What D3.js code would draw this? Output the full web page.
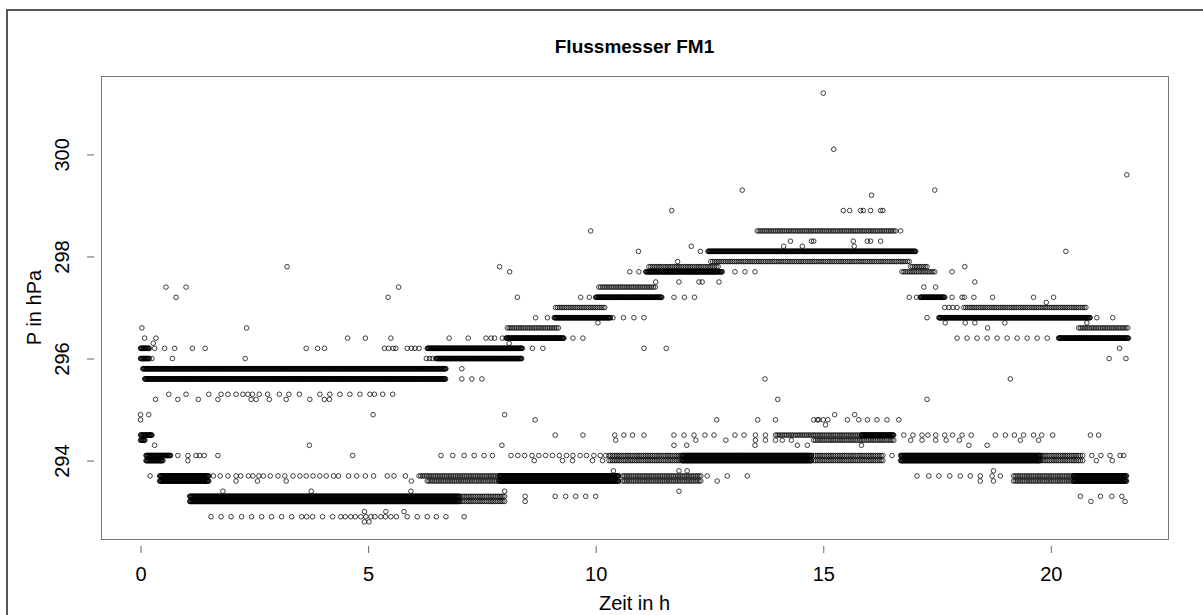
<!DOCTYPE html>
<html>
<head>
<meta charset="utf-8">
<script src="https://d3js.org/d3.v7.min.js"></script>
<title>Flussmesser FM1</title>
<style type="text/css">
body {
  margin: 0;
  background: #fff;
}
svg {
  font-family: "Liberation Sans", Arial, sans-serif;
}
.frame {
  fill: none;
  stroke: #555;
  stroke-width: 2;
}
.plot-box {
  fill: none;
  stroke: #777;
  stroke-width: 1;
}
.tick line {
  stroke: #666;
}
.pt {
  fill: none;
  stroke: #000;
  stroke-width: 0.75;
}
</style>
</head>
<body>
<svg id="chart"></svg>

<script>
// x: Zeit in h, y: P in hPa
var xTicks = [0, 5, 10, 15, 20];
var yTicks = [294, 296, 298, 300];

// sampling interval of the logger inside the solid bands and the looser chains
var denseStep = 0.012;
var chainStep = 0.04;

// solid bands: [pressure, from h, to h]
var denseRuns = [
  [296.2, 0.0, 0.2], [296.0, 0.0, 0.2],
  [295.8, 0.05, 6.71], [295.6, 0.09, 6.71],
  [296.2, 6.3, 8.39], [296.0, 6.49, 8.38],
  [296.4, 8.03, 9.31],
  [296.8, 9.09, 10.33],
  [297.2, 10.0, 11.46],
  [297.7, 11.1, 12.78],
  [298.1, 12.47, 17.03],
  [297.2, 17.13, 17.68],
  [296.8, 17.54, 20.87],
  [296.4, 20.17, 21.71],
  [294.5, 0.0, 0.26], [294.4, 0.0, 0.1],
  [294.1, 0.12, 0.67], [294.0, 0.12, 0.5],
  [293.7, 0.42, 1.51], [293.6, 0.42, 1.51],
  [293.3, 1.08, 7.0], [293.2, 1.08, 7.0],
  [293.7, 7.88, 10.51], [293.6, 7.88, 10.51],
  [294.1, 11.9, 14.75], [294.0, 11.9, 14.75],
  [294.5, 15.84, 16.55],
  [294.1, 16.7, 19.77], [294.0, 16.7, 19.77],
  [293.7, 20.5, 21.67], [293.6, 20.5, 21.67]
];

// looser chains of readings: [pressure, from h, to h]
var chainRuns = [
  [296.6, 8.06, 9.2], [297.0, 9.12, 10.22], [297.4, 10.07, 11.32],
  [297.8, 11.17, 12.71], [297.9, 12.53, 16.92], [298.5, 13.55, 16.62],
  [297.8, 16.92, 17.28], [297.7, 16.73, 17.47], [297.0, 18.09, 20.79],
  [296.6, 20.61, 21.71],
  [293.3, 7.0, 8.03], [293.2, 7.0, 8.03],
  [293.7, 6.12, 7.88], [293.6, 6.3, 7.88],
  [293.7, 10.59, 12.34], [293.6, 10.59, 12.34],
  [294.1, 10.29, 11.9], [294.0, 10.29, 11.9],
  [294.5, 13.95, 15.84], [294.4, 14.79, 16.55],
  [294.1, 14.79, 16.33], [294.0, 14.79, 16.33],
  [294.1, 19.77, 20.65], [294.0, 19.77, 20.65],
  [293.7, 19.18, 20.5], [293.6, 19.18, 20.5]
];

// single readings, listed by pressure level: [pressure, [times in h]]
var singles = [
  [301.2, [15.0]],
  [300.1, [15.23]],
  [299.6, [21.67]],
  [299.3, [13.22, 17.45]],
  [299.2, [16.06]],
  [298.9, [11.67, 15.44, 15.58, 15.82, 15.88, 16.04, 16.26, 16.31]],
  [298.5, [9.89, 16.7]],
  [298.3, [14.28, 14.74, 14.79, 15.66, 15.97, 16.04, 16.26]],
  [298.2, [12.1, 14.13, 14.54, 15.68]],
  [298.1, [10.94, 12.3, 20.33]],
  [297.9, [11.8]],
  [297.8, [3.22, 7.89, 18.11]],
  [297.7, [8.11, 10.75, 10.95, 13.06, 13.28, 13.5, 17.83]],
  [297.5, [11.32, 11.83, 12.27, 12.34, 12.71, 18.33]],
  [297.4, [0.56, 1.0, 5.67, 17.21, 17.47]],
  [297.2, [0.78, 5.44, 8.28, 9.67, 9.86, 11.72, 11.95, 12.17, 16.89, 17.05, 17.83, 18.05, 18.1, 18.31, 18.72, 19.62, 20.06]],
  [297.1, [19.9]],
  [297.0, [17.67, 17.76, 17.85, 17.94]],
  [296.8, [8.68, 8.94, 10.38, 10.61, 10.84, 11.06, 17.28, 21.01, 21.36]],
  [296.7, [10.05, 17.68, 18.12, 18.33, 18.99, 20.79]],
  [296.6, [0.03, 2.33, 18.61]],
  [296.4, [0.09, 0.34, 4.55, 4.94, 5.5, 6.78, 7.2, 7.59, 7.7, 7.78, 7.95, 9.5, 9.72,
           17.94, 18.16, 18.38, 18.6, 18.82, 19.04, 19.26, 19.48, 19.7, 19.92]],
  [296.3, [0.28, 8.1]],
  [296.2, [0.31, 0.53, 0.75, 1.14, 1.42, 3.64, 3.89, 4.04, 5.36, 5.45, 5.55, 5.61, 5.86,
           5.95, 6.03, 6.12, 8.61, 8.84, 11.06, 11.55, 21.51]],
  [296.0, [0.25, 0.7, 2.3, 6.28, 6.35, 6.41, 21.28, 21.65]],
  [295.8, [7.06]],
  [295.6, [7.06, 7.28, 7.5, 13.72, 19.11]],
  [295.3, [0.62, 1.0, 1.5, 1.77, 1.92, 2.1, 2.25, 2.36, 2.46, 2.61, 2.79, 3.05, 3.26, 3.49,
           3.94, 4.16, 4.38, 4.6, 4.82, 5.04, 5.14, 5.32, 5.54]],
  [295.2, [0.33, 0.82, 1.27, 1.7, 2.43, 2.54, 2.83, 3.2, 3.72, 4.04, 4.15, 14.0, 17.28]],
  [294.9, [0.0, 0.18, 5.11, 8.0, 15.25, 15.69]],
  [294.8, [0.0, 8.67, 12.66, 13.56, 13.95, 14.79, 14.87, 14.9, 15.0, 15.1, 15.53, 15.78,
           15.97, 16.18, 16.4, 16.66]],
  [294.7, [15.05]],
  [294.5, [9.11, 9.72, 10.42, 10.62, 10.81, 11.06, 11.72, 11.94, 12.16, 12.4, 12.6, 13.06,
           13.26, 13.51, 13.73, 16.77, 16.97, 17.17, 17.3, 17.47, 17.67, 17.84, 18.05,
           18.25, 18.78, 19.0, 19.2, 19.4, 19.62, 19.8, 20.04, 20.87, 21.05]],
  [294.4, [10.44, 12.2, 12.86, 13.51, 13.73, 13.95, 14.1, 14.3, 16.92, 17.17, 17.47, 17.7,
           17.99, 19.33, 19.73]],
  [294.3, [0.31, 3.71, 7.94, 11.72, 12.0, 13.5, 14.43, 14.65, 15.84, 18.2, 18.6]],
  [294.1, [0.82, 1.04, 1.22, 1.3, 1.4, 1.7, 4.66, 6.6, 6.86, 7.11, 7.33, 7.55, 7.73,
           8.14, 8.29, 8.44, 8.6, 8.75, 8.9, 9.05, 9.2, 9.36, 9.5, 9.66, 9.8, 9.96, 10.1,
           10.22, 16.51, 20.7, 20.9, 21.1, 21.3, 21.52, 21.6]],
  [294.0, [1.04, 8.65, 9.27, 9.49, 9.93, 10.15, 20.7, 21.0, 21.35]],
  [293.8, [10.39, 11.83, 12.01, 18.74]],
  [293.7, [0.21, 1.6, 1.75, 1.92, 2.1, 2.2, 2.37, 2.47, 2.6, 2.7, 2.85, 3.02, 3.17, 3.35,
           3.5, 3.64, 3.79, 3.94, 4.08, 4.24, 4.35, 4.57, 4.75, 4.94, 5.12, 5.42, 5.57,
           5.82, 12.45, 12.89, 13.33, 17.06, 17.32, 17.54, 17.78, 18.01, 18.23, 18.45,
           18.71, 18.89]],
  [293.6, [2.1, 2.57, 3.2, 5.95, 12.67, 18.45, 18.74]],
  [293.4, [1.81, 3.75, 5.94, 8.0, 11.83]],
  [293.3, [8.45, 9.11, 9.34, 9.56, 9.78, 10.0, 20.65, 21.09, 21.34, 21.56]],
  [293.2, [8.45, 20.88, 21.63]],
  [293.0, [4.92, 5.39, 5.79]],
  [292.9, [1.55, 1.77, 1.99, 2.22, 2.44, 2.66, 2.88, 3.1, 3.32, 3.54, 3.65, 3.78, 4.0,
           4.22, 4.4, 4.5, 4.62, 4.72, 4.84, 4.95, 5.06, 5.15, 5.28, 5.38, 5.5, 5.62,
           5.86, 6.08, 6.3, 6.5, 6.71, 7.11]],
  [292.8, [4.92, 5.02]]
];

var width = 1203, height = 615;
var margin = {left: 101, right: 35, top: 76, bottom: 76};

// build the point list
var points = [];
function addRun(r, step) {
  for (var t = r[1]; t <= r[2] + 1e-9; t += step) points.push([t, r[0]]);
}
denseRuns.forEach(function(r) { addRun(r, denseStep); });
chainRuns.forEach(function(r) { addRun(r, chainStep); });
singles.forEach(function(s) {
  s[1].forEach(function(t) { points.push([t, s[0]]); });
});

// R style axis extent: data range plus 4%
function pad(ext) {
  var d = (ext[1] - ext[0]) * 0.04;
  return [ext[0] - d, ext[1] + d];
}

var x = d3.scaleLinear()
  .domain(pad(d3.extent(points, function(d) { return d[0]; })))
  .range([margin.left, width - margin.right]);
var y = d3.scaleLinear()
  .domain(pad(d3.extent(points, function(d) { return d[1]; })))
  .range([height - margin.bottom, margin.top]);

var svg = d3.select('#chart')
  .attr('width', width)
  .attr('height', height);

// panel frame (runs off the right and bottom edge)
svg.append('rect')
  .attr('class', 'frame')
  .attr('x', 7).attr('y', 10)
  .attr('width', width + 20).attr('height', height + 20);

svg.append('text')
  .attr('x', (margin.left + width - margin.right) / 2)
  .attr('y', 53)
  .attr('text-anchor', 'middle')
  .style('font-weight', 'bold')
  .style('font-size', '19px')
  .text('Flussmesser FM1');

var xAxis = d3.axisBottom(x).tickValues(xTicks).tickSize(7).tickPadding(14);
var gx = svg.append('g')
  .attr('class', 'x axis')
  .attr('transform', 'translate(0,' + (height - margin.bottom + 7) + ')')
  .call(xAxis);
gx.select('.domain').remove();
gx.selectAll('text').style('font-size', '20px').attr('fill', '#000');

var yAxis = d3.axisLeft(y).tickValues(yTicks).tickSize(7);
var gy = svg.append('g')
  .attr('class', 'y axis')
  .attr('transform', 'translate(' + (margin.left - 7) + ',0)')
  .call(yAxis);
gy.select('.domain').remove();
gy.selectAll('text')
  .style('font-size', '20px')
  .attr('fill', '#000')
  .attr('text-anchor', 'middle')
  .attr('dy', 0)
  .attr('x', 0)
  .attr('transform', function() {
    return 'translate(-25,0) rotate(-90)';
  });

svg.append('rect')
  .attr('class', 'plot-box')
  .attr('x', margin.left + 0.5).attr('y', margin.top + 0.5)
  .attr('width', width - margin.left - margin.right)
  .attr('height', height - margin.top - margin.bottom);

svg.append('text')
  .attr('x', (margin.left + width - margin.right) / 2)
  .attr('y', 610)
  .attr('text-anchor', 'middle')
  .style('font-size', '20px')
  .text('Zeit in h');

svg.append('text')
  .attr('transform', 'translate(41,' + ((margin.top + height - margin.bottom) / 2) + ') rotate(-90)')
  .attr('text-anchor', 'middle')
  .style('font-size', '20px')
  .text('P in hPa');

svg.append('g')
  .selectAll('circle')
  .data(points)
  .enter().append('circle')
    .attr('class', 'pt')
    .attr('cx', function(d) { return x(d[0]); })
    .attr('cy', function(d) { return y(d[1]); })
    .attr('r', 2.3);
</script>
</body>
</html>
